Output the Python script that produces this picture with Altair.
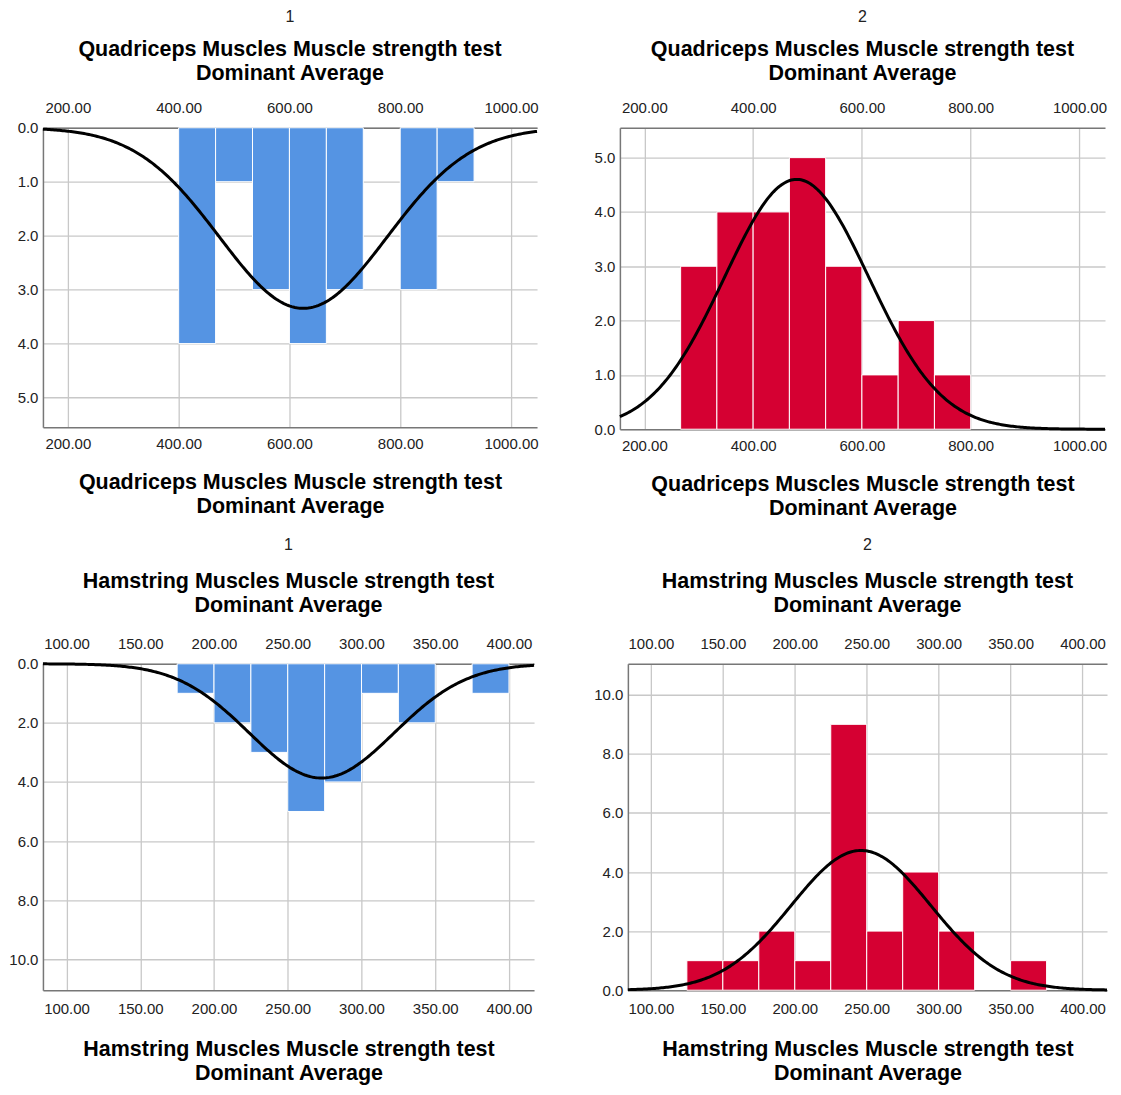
import altair as alt
import pandas as pd

# ---- data ----
Q_TITLE = ["Quadriceps Muscles Muscle strength test", "Dominant Average"]
H_TITLE = ["Hamstring Muscles Muscle strength test", "Dominant Average"]

Q1_EDGES = [400.0, 466.67, 533.33, 600.0, 666.67, 733.33, 800.0, 866.67, 933.33]
Q1_COUNTS = [4, 1, 3, 4, 3, 0, 3, 1]
Q2_EDGES = [266.67, 333.33, 400.0, 466.67, 533.33, 600.0, 666.67, 733.33, 800.0]
Q2_COUNTS = [3, 4, 4, 5, 3, 1, 2, 1]
H1_EDGES = [175, 200, 225, 250, 275, 300, 325, 350, 375, 400]
H1_COUNTS = [1, 2, 3, 5, 4, 1, 2, 0, 1]
H2_EDGES = [125, 150, 175, 200, 225, 250, 275, 300, 325, 350, 375]
H2_COUNTS = [1, 1, 2, 1, 9, 2, 4, 2, 0, 1]

# normal-curve parameters (mean, sd, N, bin width)
Q1_NORM = [625, 151, 19, 66.67]
Q2_NORM = [480, 133, 23, 66.67]
H1_NORM = [273, 49, 19, 25]
H2_NORM = [246, 48.5, 23, 25]

Q_XDOM = [155, 1047]
H_XDOM = [84, 417]
Q_XTICKS = [200, 400, 600, 800, 1000]
H_XTICKS = [100, 150, 200, 250, 300, 350, 400]
Q_YDOM = [0, 5.55]
H_YDOM = [0, 11.05]
Q_YTICKS = [0, 1, 2, 3, 4, 5]
H_YTICKS = [0, 2, 4, 6, 8, 10]

BLUE = "#5594E3"
RED = "#D50032"
FONT = "Liberation Sans"
TFS = 21.5


def panel(edges, counts, color, norm, xdom, xvals, ydom, yvals, reverse,
          label, title_lines, w, h, sp):
    df = pd.DataFrame({"lo": edges[:-1], "hi": edges[1:], "count": counts})
    df = df[df["count"] > 0]
    mean, sd, n, bw = norm
    xscale = alt.Scale(domain=xdom, nice=False, zero=False)
    yscale = alt.Scale(domain=ydom, nice=False, reverse=reverse)
    yaxis = alt.Axis(values=yvals, format=".1f", title=None, grid=True,
                     orient="left", labelPadding=5)
    bars = alt.Chart(df).mark_rect(color=color, stroke="white", strokeWidth=1).encode(
        x=alt.X("lo:Q", scale=xscale,
                axis=alt.Axis(orient="top", values=xvals, format=".2f", title=None,
                              grid=True, labelPadding=sp["top_lab"])),
        x2="hi:Q",
        y=alt.Y("count:Q", scale=yscale, axis=yaxis),
        y2=alt.datum(0),
    )
    step = (xdom[1] - xdom[0]) / 300.0
    curve = alt.Chart(alt.sequence(xdom[0], xdom[1] + step / 2, step, as_="x")).transform_calculate(
        d=f"{n}*{bw}/({sd}*sqrt(2*PI))*exp(-0.5*pow((datum.x-{mean})/{sd},2))"
    ).mark_line(color="black", strokeWidth=3).encode(
        x=alt.X("x:Q", scale=xscale,
                axis=alt.Axis(orient="bottom", values=xvals, format=".2f", grid=False,
                              title=title_lines, titleFontSize=TFS, titleFontWeight="bold",
                              titleFont=FONT, titleColor="black",
                              titlePadding=sp["title_pad"],
                              titleLineHeight=sp["lh"], labelPadding=sp["bot_lab"])),
        y=alt.Y("d:Q", scale=yscale, axis=yaxis),
    )
    return alt.layer(bars, curve).resolve_axis(x="independent").properties(
        width=w, height=h,
        title=alt.TitleParams(
            text=label, subtitle=title_lines, fontSize=16, fontWeight="normal",
            font=FONT, color="#222", subtitleFont=FONT, subtitleFontSize=TFS,
            subtitleFontWeight="bold", subtitleColor="black", subtitleLineHeight=sp["lh"],
            subtitlePadding=sp["sub_pad"], anchor="middle", frame="group",
            offset=sp["offset"],
        ),
    )


TOP_SP = {"top_lab": 12, "bot_lab": 9, "title_pad": 20, "lh": 24, "sub_pad": 14, "offset": 16}
BOT_SP = {"top_lab": 12, "bot_lab": 11, "title_pad": 22, "lh": 24, "sub_pad": 18, "offset": 20}

p1 = panel(Q1_EDGES, Q1_COUNTS, BLUE, Q1_NORM, Q_XDOM, Q_XTICKS, Q_YDOM, Q_YTICKS, True,
           "1", Q_TITLE, 495, 300, TOP_SP)
p2 = panel(Q2_EDGES, Q2_COUNTS, RED, Q2_NORM, Q_XDOM, Q_XTICKS, Q_YDOM, Q_YTICKS, False,
           "2", Q_TITLE, 486, 302, TOP_SP)
p3 = panel(H1_EDGES, H1_COUNTS, BLUE, H1_NORM, H_XDOM, H_XTICKS, H_YDOM, H_YTICKS, True,
           "1", H_TITLE, 492, 327, BOT_SP)
p4 = panel(H2_EDGES, H2_COUNTS, RED, H2_NORM, H_XDOM, H_XTICKS, H_YDOM, H_YTICKS, False,
           "2", H_TITLE, 480, 327, BOT_SP)

chart = alt.vconcat(
    alt.hconcat(p1, p2, spacing=51),
    alt.hconcat(p3, p4, spacing=52),
    spacing=18,
).properties(
    padding={"left": 0, "top": 0, "right": 0, "bottom": 0},
).configure_view(stroke=None).configure_axis(
    labelFont=FONT, labelFontSize=15, labelColor="#222",
    gridColor="#c8c8c8", gridWidth=1.3, domainColor="#777", domainWidth=1.5,
    tickSize=0, ticks=False,
)

chart.save("out.html", embed_options={"renderer": "svg", "actions": False})
